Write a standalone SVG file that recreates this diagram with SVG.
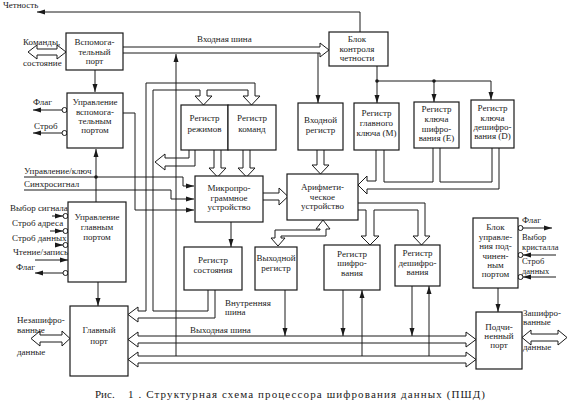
<svg xmlns="http://www.w3.org/2000/svg" width="571" height="401" viewBox="0 0 571 401">
<defs>
<marker id="ah" viewBox="0 0 8 6" refX="8" refY="3" markerWidth="8" markerHeight="6" markerUnits="userSpaceOnUse" orient="auto"><path d="M0,0.5 L8,3 L0,5.5 Z" fill="#1a1a1a"/></marker>
</defs>
<style>
.b{fill:#fff;stroke:#1a1a1a;stroke-width:1.2}
.l{fill:none;stroke:#1a1a1a;stroke-width:1}
.a{fill:none;stroke:#1a1a1a;stroke-width:1;marker-end:url(#ah)}
.o{fill:#fff;stroke:#1a1a1a;stroke-width:1}
.d{fill:#1a1a1a}
text{font-family:"Liberation Serif","DejaVu Serif",serif;font-size:9px;fill:#1a1a1a}
.c{text-anchor:middle}
.s{font-size:8.5px}
.cap{font-size:11px}
</style>
<rect width="571" height="401" fill="#fff"/>

<g id="connectors">
  <path class="a" d="M95,70 V92"/>
  <path class="a" d="M96,202 V149"/>
  <path class="a" d="M62,110 H33"/>
  <path class="a" d="M62,133 H33"/>
  <path class="a" d="M24,177 H183 V186 H194"/>
  <path class="a" d="M24,190 H171 V199 H194"/>
  <path class="a" d="M123,113 H135 V210 H194"/>
  <path class="a" d="M52,216 H63"/>
  <path class="a" d="M50,231 H63"/>
  <path class="a" d="M55,245 H63"/>
  <path class="a" d="M35,260 H68"/>
  <path class="a" d="M63,273 H35"/>
  <path class="a" d="M98,282 V306"/>
  <path class="a" d="M360,32 V12 H37"/>
  <path class="a" d="M318,53 V103"/>
  <path class="a" d="M176,356 V54"/>
  <path class="a" d="M377,66 V103"/>
  <path class="l" d="M377,81 H491"/>
  <path class="a" d="M434,81 V102"/>
  <path class="a" d="M491,81 V100"/>
  <path class="a" d="M231,222 V247"/>
  <path class="a" d="M285,290 V336"/>
  <path class="a" d="M343,290 V336"/>
  <path class="a" d="M362,356 V290"/>
  <path class="a" d="M412,286 V336"/>
  <path class="a" d="M429,356 V286"/>
  <path class="a" d="M498,288 V312"/>
  <path class="a" d="M523,228 H552"/>
  <path class="a" d="M556,255 H523"/>
  <path class="a" d="M556,277 H523"/>

  <path class="l" d="M37,49 H57 M37,55 H57 M57,49 V45 L66,52 L57,59 V55 M37,49 V45 L28,52 L37,59 V55"/>
  <path class="l" d="M123,47 H320 V43 L329,50 L320,57 V53 H123"/>
  <path class="l" d="M138,311 H146 V83 H255 V96 H260 L251.5,105 L243,96 H248 V90 H207 V96 H212 L203.5,105 L195,96 H200 V90 H153 V311 H208 V290"/>
  <path class="l" d="M138,318 H215 V290"/>
  <path class="l" d="M138,311 V307 L128,314.5 L138,322 V318"/>
  <path class="l" d="M189,150 V158 H165 V154 L155,162 L165,170 V166 H195 V150"/>
  <path class="l" d="M214,150 V168 H209 L217.5,177 L226,168 H221 V150"/>
  <path class="l" d="M243,150 V168 H238 L246.5,177 L255,168 H250 V150"/>
  <path class="l" d="M317,150 V165 H312 L320.5,174 L329,165 H324 V150"/>
  <path class="l" d="M263,193 H279 V188 L288,196.5 L279,205 V200 H263"/>
  <path class="l" d="M376,150 V181 H367 V176 L358,185 L367,194 V189 H499 V148"/>
  <path class="l" d="M384,150 V182 H433 V148"/>
  <path class="l" d="M440,148 V182 H492 V148"/>
  <path class="l" d="M358,203 H425 V236 H430 L421.5,245 L413,236 H418 V210 H374 V236 H379 L370,245 L361,236 H366 V210 H358"/>
  <path class="l" d="M320,229 V230 H275 V238 H271 L278,246 L285,238 H281 V236 H326 V229 H330 L323,220 L316,229 H320"/>
  <path class="l" d="M138,336 H466 M138,343 H466 M138,336 V332 L128,339.5 L138,347 V343 M466,336 V332 L476,339.5 L466,347 V343"/>
  <path class="l" d="M138,356 H466 M138,363 H466 M138,356 V352 L128,359.5 L138,367 V363 M466,356 V352 L476,359.5 L466,367 V363"/>
  <path class="l" d="M40,335 H62 M40,342 H62 M62,335 V331 L70,338.5 L62,346 V342 M40,335 V331 L31,338.5 L40,346 V342"/>
  <path class="l" d="M531,334 H558 M531,341 H558 M558,334 V330 L567,337.5 L558,345 V341 M531,334 V330 L522,337.5 L531,345 V341"/>

  <circle class="d" cx="96" cy="177" r="1.8"/>
  <circle class="d" cx="377" cy="81" r="1.8"/>
  <circle class="d" cx="434" cy="81" r="1.8"/>
  <circle class="o" cx="64.5" cy="110" r="2.5"/>
  <circle class="o" cx="64.5" cy="133" r="2.5"/>
  <circle class="o" cx="65.5" cy="216" r="2.5"/>
  <circle class="o" cx="65.5" cy="231" r="2.5"/>
  <circle class="o" cx="65.5" cy="245" r="2.5"/>
  <circle class="o" cx="65.5" cy="273" r="2.5"/>
  <circle class="o" cx="520.5" cy="228" r="2.5"/>
  <circle class="o" cx="520.5" cy="255" r="2.5"/>
  <circle class="o" cx="520.5" cy="277" r="2.5"/>
</g>

<g id="n-vspom-port"><rect class="b" x="66" y="33" width="57" height="37"/>
  <text class="c" x="94.5" y="45">Вспомога-</text><text class="c" x="94.5" y="55">тельный</text><text class="c" x="94.5" y="64">порт</text></g>
<g id="n-upr-vspom"><rect class="b" x="67" y="93" width="56" height="55"/>
  <text class="c" x="95" y="105">Управление</text><text class="c" x="95" y="115">вспомога-</text><text class="c" x="95" y="124">тельным</text><text class="c" x="95" y="133">портом</text></g>
<g id="n-upr-glav"><rect class="b" x="68" y="202" width="58" height="80"/>
  <text class="c" x="97" y="220">Управление</text><text class="c" x="97" y="230">главным</text><text class="c" x="97" y="240">портом</text></g>
<g id="n-glav-port"><rect class="b" x="70" y="306" width="58" height="70"/>
  <text class="c" x="99" y="333">Главный</text><text class="c" x="99" y="344">порт</text></g>
<g id="n-reg-rezh"><rect class="b" x="181" y="105" width="47" height="45"/>
  <text class="c" x="204.5" y="121">Регистр</text><text class="c" x="204.5" y="132">режимов</text></g>
<g id="n-reg-kom"><rect class="b" x="228" y="105" width="48" height="45"/>
  <text class="c" x="252" y="121">Регистр</text><text class="c" x="252" y="132">команд</text></g>
<g id="n-vh-reg"><rect class="b" x="298" y="103" width="45" height="47"/>
  <text class="c" x="320.5" y="123">Входной</text><text class="c" x="320.5" y="133">регистр</text></g>
<g id="n-reg-m"><rect class="b" x="354" y="103" width="45" height="47"/>
  <text class="c" x="376.5" y="116">Регистр</text><text class="c" x="376.5" y="126">главного</text><text class="c" x="376.5" y="136">ключа (M)</text></g>
<g id="n-reg-e"><rect class="b" x="414" y="102" width="45" height="46"/>
  <text class="c" x="436.5" y="112">Регистр</text><text class="c" x="436.5" y="122">ключа</text><text class="c" x="436.5" y="132">шифро-</text><text class="c" x="436.5" y="141">вания (E)</text></g>
<g id="n-reg-d"><rect class="b" x="471" y="100" width="43" height="48"/>
  <text class="c" x="492.5" y="111">Регистр</text><text class="c" x="492.5" y="121">ключа</text><text class="c" x="492.5" y="130">дешифро-</text><text class="c" x="492.5" y="139">вания (D)</text></g>
<g id="n-kontrol"><rect class="b" x="329" y="32" width="59" height="34"/>
  <text class="c" x="357" y="42">Блок</text><text class="c" x="357" y="52">контроля</text><text class="c" x="357" y="61">четности</text></g>
<g id="n-mikro"><rect class="b" x="195" y="176" width="68" height="46"/>
  <text class="c" x="229" y="191">Микропро-</text><text class="c" x="229" y="201">граммное</text><text class="c" x="229" y="210">устройство</text></g>
<g id="n-alu"><rect class="b" x="287" y="174" width="71" height="46"/>
  <text class="c" x="322.5" y="190">Арифмети-</text><text class="c" x="322.5" y="200">ческое</text><text class="c" x="322.5" y="209">устройство</text></g>
<g id="n-reg-sost"><rect class="b" x="184" y="247" width="58" height="43"/>
  <text class="c" x="213" y="263">Регистр</text><text class="c" x="213" y="273">состояния</text></g>
<g id="n-vyh-reg"><rect class="b" x="255" y="247" width="42" height="43"/>
  <text class="c" x="276" y="261">Выходной</text><text class="c" x="276" y="271">регистр</text></g>
<g id="n-reg-shifr"><rect class="b" x="324" y="245" width="56" height="45"/>
  <text class="c" x="352" y="257">Регистр</text><text class="c" x="352" y="266">шифро-</text><text class="c" x="352" y="276">вания</text></g>
<g id="n-reg-deshifr"><rect class="b" x="395" y="245" width="45" height="41"/>
  <text class="c" x="417.5" y="256">Регистр</text><text class="c" x="417.5" y="266">дешифро-</text><text class="c" x="417.5" y="275">вания</text></g>
<g id="n-upr-podch"><rect class="b" x="473" y="218" width="45" height="70"/>
  <text class="c" x="495.5" y="230">Блок</text><text class="c" x="495.5" y="239.5">управле-</text><text class="c" x="495.5" y="249">ния под-</text><text class="c" x="495.5" y="258.5">чинен-</text><text class="c" x="495.5" y="268">ным</text><text class="c" x="495.5" y="277">портом</text></g>
<g id="n-podch-port"><rect class="b" x="476" y="312" width="46" height="57"/>
  <text class="c" x="499" y="330">Подчи-</text><text class="c" x="499" y="339">ненный</text><text class="c" x="499" y="348">порт</text></g>

<g id="labels">
  <text x="3" y="8">Четность</text>
  <text x="23" y="45">Команды,</text>
  <text x="23" y="66">состояние</text>
  <text x="197" y="42">Входная шина</text>
  <text x="33" y="105">Флаг</text>
  <text x="34" y="129">Строб</text>
  <text x="24" y="174">Управление/ключ</text>
  <text x="24" y="187">Синхросигнал</text>
  <text x="10" y="211">Выбор сигнала</text>
  <text x="12" y="226">Строб адреса</text>
  <text x="12" y="241">Строб данных</text>
  <text x="13" y="255">Чтение/запись</text>
  <text x="16" y="270">Флаг</text>
  <text x="17" y="323">Незашифро-</text>
  <text x="17" y="333">ванные</text>
  <text x="17" y="355">данные</text>
  <text x="225" y="306">Внутренняя</text>
  <text x="225" y="315">шина</text>
  <text x="190" y="333">Выходная шина</text>
  <text x="522" y="223">Флаг</text>
  <text class="s" x="522" y="240">Выбор</text>
  <text class="s" x="522" y="249.5">кристалла</text>
  <text class="s" x="522" y="264">Строб</text>
  <text class="s" x="522" y="274">данных</text>
  <text x="523" y="316">Зашифро-</text>
  <text x="523" y="325">ванные</text>
  <text x="523" y="350">данные</text>
</g>

<text class="cap" y="398"><tspan x="95">Рис.</tspan><tspan x="128" textLength="357" lengthAdjust="spacing">1 . Структурная схема процессора шифрования данных (ПШД)</tspan></text>
</svg>
